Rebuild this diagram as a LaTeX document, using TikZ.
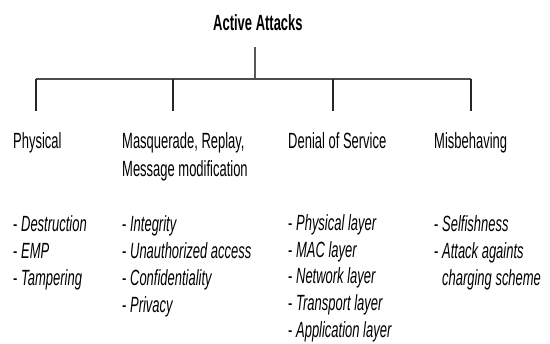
\documentclass[tikz,border=0pt]{standalone}
\usepackage{fontspec}
\setmainfont{Liberation Sans}[FakeStretch=0.59]

\begin{document}
\begin{tikzpicture}[x=1bp,y=-1bp,
    hd/.style={anchor=base west,inner sep=0pt},
    bar/.style={black!70,line width=1.7bp},
    drop/.style={black!85,line width=1.3bp},
    every node/.style={font=\fontsize{22bp}{27bp}\selectfont}]
  \useasboundingbox (0,0) rectangle (550,343);
  % the root and the bar
  \node[hd,font=\fontsize{22bp}{27bp}\selectfont\bfseries] (title) at (213,30) {Active Attacks};
  \coordinate (top) at (255,47);
  \coordinate (mid) at (255,79);
  \foreach \i/\x in {1/36,2/173,3/333,4/471}{
    \coordinate (b\i) at (\x,79);
    \coordinate (d\i) at (\x,111);
  }
  \draw[black!65,line width=1.4bp] (top)--(mid);
  \draw[bar] (b1)--(b4);
  \foreach \i in {1,2,3,4}{ \draw[drop] (b\i)--(d\i); }
  % the four kinds
  \node[hd] (phys) at (13,148) {Physical};
  \node[hd] (masq) at (122,148) {Masquerade, Replay,};
  \node[hd] (masqb) at (122,176) {Message modification};
  \node[hd] (dos) at (288,148) {Denial of Service};
  \node[hd] (misb) at (434,148) {Misbehaving};
  % the lists under them
  \foreach \t [count=\i] in {Destruction,EMP,Tampering}{
    \node[hd] (ph\i) at (13,{204+27*\i}) {- \textit{\t}};
  }
  \foreach \t [count=\i] in {Integrity,Unauthorized access,Confidentiality,Privacy}{
    \node[hd] (ma\i) at (122,{204+27*\i}) {- \textit{\t}};
  }
  \foreach \t [count=\i] in {Physical layer,MAC layer,Network layer,Transport layer,Application layer}{
    \node[hd] (de\i) at (288,{204+26.6*\i}) {- \textit{\t}};
  }
  \node[hd] (mi1) at (434,231) {- \textit{Selfishness}};
  \node[hd] (mi2) at (434,258) {- \textit{Attack againts}};
  \node[hd] (mi3) at (434,285) {\phantom{- }\textit{charging scheme}};
\end{tikzpicture}
\end{document}
